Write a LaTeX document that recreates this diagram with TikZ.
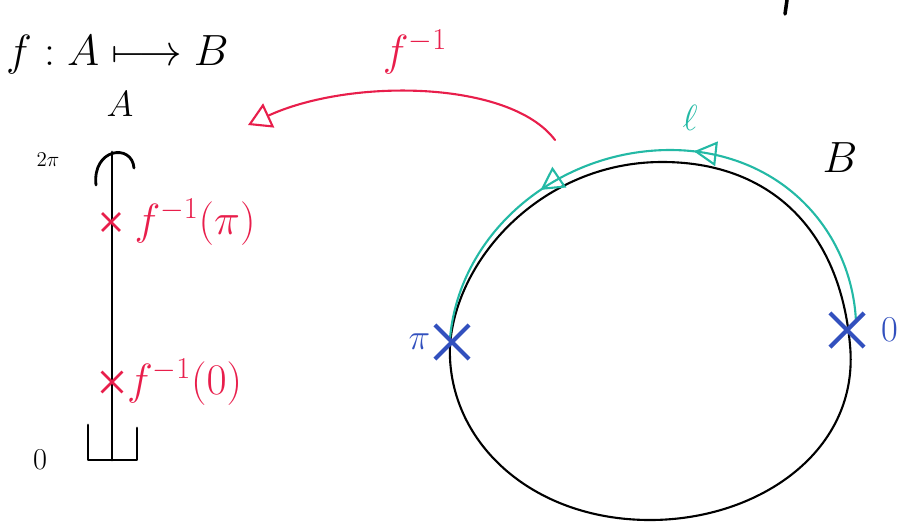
\documentclass[tikz,border=0pt]{standalone}
\usepackage{amsmath, amssymb}
\usepackage{tikz}
\usetikzlibrary{arrows.meta, positioning, shapes.misc, decorations.markings}
\definecolor{rosso}{RGB}{232,30,75}
\definecolor{verde}{RGB}{35,185,165}
\definecolor{blu}{RGB}{50,80,190}

\tikzset{
  tratto/.style={line width=1.2pt, line cap=round, line join=round},
  croce/.style={cross out, draw, inner sep=0pt, minimum size=#1},
  etichetta/.style={inner sep=1pt, font=\fontsize{#1}{#1}\selectfont},
  punta/.style={-{Triangle[open, length=13pt, width=15pt]}},
}

\begin{document}
\begin{tikzpicture}[x=0.02cm, y=-0.02cm]
  \useasboundingbox (0,0) rectangle (899,525);
  % Titolo
  \node[etichetta=27, anchor=west] (mappa) at (4,55) {$f : A \longmapsto B$};
  % Asse A
  \node[etichetta=20] (nomeA) at (120,104) {$A$};
  \coordinate (basso) at (112,460);
  \coordinate (alto) at (112,152);
  \draw[tratto, line width=1.6pt] (basso) -- (alto);
  \draw[tratto, line width=1.6pt] (96,185) .. controls (92,148) and (132,143) .. (134,168);
  \draw[tratto, line width=1.6pt] (88,425) -- (88,460) -- (137,460) -- (137,428);
  \node[etichetta=12] (duepi) at (48,160) {$2\pi$};
  \node[etichetta=18] (zeroA) at (40,460) {$0$};
  % Punti su A
  \node[croce=0.3cm, draw=rosso, line width=1.6pt] (pinv) at (111,222) {};
  \node[croce=0.36cm, draw=rosso, line width=1.6pt] (zinv) at (112,382) {};
  \node[etichetta=26, text=rosso, right=0.25cm of pinv] (lpinv) {$f^{-1}(\pi)$};
  \node[etichetta=26, text=rosso, right=0.05cm of zinv] (lzinv) {$f^{-1}(0)$};
  % Cerchio B
  \draw[tratto] (450,345) .. controls (457,255) and (545,163) .. (660,162)
    .. controls (770,161) and (840,230) .. (850,345)
    .. controls (860,450) and (760,520) .. (650,520)
    .. controls (530,520) and (446,440) .. cycle;
  \node[etichetta=30] (nomeB) at (840,158) {$B$};
  % Cammino verde
  \draw[tratto, verde, postaction={decorate}, decoration={markings,
      mark=at position 0.43 with {\arrow{Triangle[open, length=13pt, width=14pt]}},
      mark=at position 0.70 with {\arrow{Triangle[open, length=13pt, width=14pt]}}}]
    (856,322) .. controls (852,230) and (780,150) .. (670,150)
    .. controls (560,150) and (460,230) .. (450,338);
  \node[etichetta=22, text=verde] (nomel) at (690,118) {$\ell$};
  % Punti su B
  \node[croce=0.6cm, draw=blu, line width=2.4pt] (pb) at (452,342) {};
  \node[croce=0.6cm, draw=blu, line width=2.4pt] (zb) at (847,330) {};
  \node[etichetta=22, text=blu, left=0.05cm of pb] (lpb) {$\pi$};
  \node[etichetta=22, text=blu, right=0.3cm of zb] (lzb) {$0$};
  % Freccia f^{-1}
  \coordinate (daB) at (555,140);
  \coordinate (versoA) at (248,125);
  \draw[tratto, rosso, punta] (daB) .. controls (510,80) and (350,78) .. (versoA);
  \node[etichetta=26, text=rosso] (finv) at (415,52) {$f^{-1}$};
  % segno in alto
  \draw[tratto, line width=2pt] (787,0) -- (785,14);
\end{tikzpicture}
\end{document}
